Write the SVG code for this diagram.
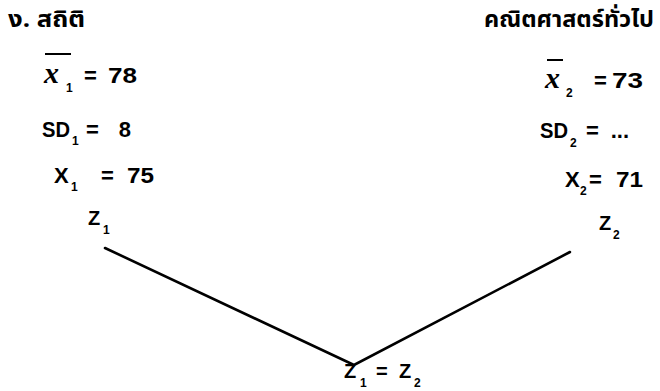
<svg xmlns="http://www.w3.org/2000/svg" width="660" height="391" viewBox="0 0 660 391">
<style>
text{font-family:"Liberation Sans",Arial,sans-serif;font-weight:bold;font-size:22px;fill:#000}
.th{font-family:"Noto Sans Thai","Noto Sans","DejaVu Sans",sans-serif;font-size:23px}
.xi{font-family:"Liberation Serif",serif;font-style:italic;font-size:30px}
.s{font-size:12px}
.z{font-size:20px}
.ln{stroke:#000;stroke-width:2.6;fill:none;stroke-linecap:round}
.ov{stroke:#000;stroke-width:2}
</style>
<rect width="660" height="391" fill="#fff"/>
<g id="left">
<text class="th" x="8" y="27" textLength="77" lengthAdjust="spacingAndGlyphs">ง. สถิติ</text>
<line class="ov" x1="45" y1="54" x2="71" y2="54"/>
<text class="xi" x="44" y="83">x</text>
<text class="s" x="66" y="92">1</text>
<text x="84" y="83">=</text>
<text x="108" y="83" textLength="29" lengthAdjust="spacingAndGlyphs">78</text>
<text x="42" y="137" textLength="28" lengthAdjust="spacingAndGlyphs">SD</text>
<text class="s" x="72" y="145">1</text>
<text x="86" y="137">=</text>
<text x="131" y="137" text-anchor="end">8</text>
<text x="54" y="183">X</text>
<text class="s" x="71" y="191">1</text>
<text x="101" y="183">=</text>
<text x="127" y="183" textLength="27" lengthAdjust="spacingAndGlyphs">75</text>
</g>
<g id="right">
<text class="th" x="484" y="27" textLength="170" lengthAdjust="spacingAndGlyphs">คณิตศาสตร์ทั่วไป</text>
<line class="ov" x1="547" y1="60" x2="563" y2="60"/>
<text class="xi" x="545" y="88">x</text>
<text class="s" x="566" y="97">2</text>
<text x="594" y="88">=</text>
<text x="612" y="88" textLength="31" lengthAdjust="spacingAndGlyphs">73</text>
<text x="540" y="138" textLength="28" lengthAdjust="spacingAndGlyphs">SD</text>
<text class="s" x="570" y="147">2</text>
<text x="586" y="138">=</text>
<text x="629" y="138" text-anchor="end">...</text>
<text x="565" y="187">X</text>
<text class="s" x="580" y="195">2</text>
<text x="589" y="187">=</text>
<text x="616" y="187" textLength="27" lengthAdjust="spacingAndGlyphs">71</text>
</g>
<g id="z1"><text class="z" x="88" y="225">Z</text><text class="s" x="103" y="234">1</text></g>
<g id="z2"><text class="z" x="599" y="230">Z</text><text class="s" x="613" y="239">2</text></g>
<g id="zeq"><text class="z" x="344" y="378">Z</text><text class="s" x="360" y="387">1</text><text class="z" x="376" y="378">=</text><text class="z" x="399" y="378">Z</text><text class="s" x="414" y="387">2</text></g>
<g id="connectors">
<polyline class="ln" points="105,248 354,365 570,252"/>
</g>
</svg>
